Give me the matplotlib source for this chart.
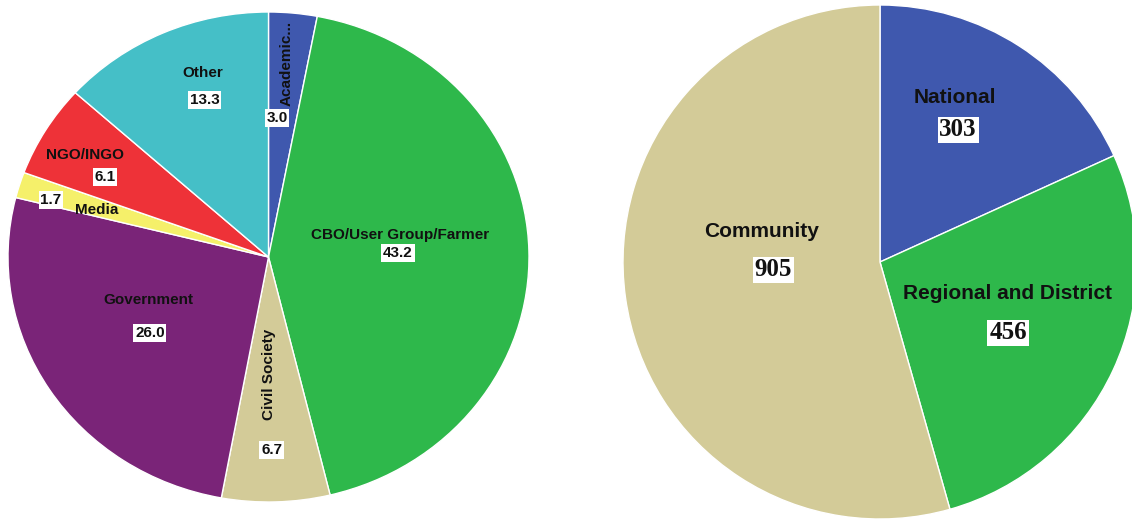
import matplotlib
matplotlib.use("Agg")
import matplotlib.pyplot as plt

# Stakeholder type (percent of respondents)
sector_names = ["Academic...", "CBO/User Group/Farmer", "Civil Society", "Government",
                "Media", "NGO/INGO", "Other"]
sector_pct = [3.0, 43.2, 6.7, 26.0, 1.7, 6.1, 13.3]
sector_colors = ["#3F58AE", "#2EB84B", "#D3CB98", "#7A2478", "#F5F06A", "#EE3238", "#45BFC7"]

# Administrative level (counts)
level_names = ["National", "Regional and District", "Community"]
level_counts = [303, 456, 905]
level_colors = ["#3F58AE", "#2EB84B", "#D3CB98"]

# label placement inside each pie (axes data units): name xy, value xy, name rotation
sector_layout = [
    ((0.071, 0.79), (0.033, 0.567), 90),
    ((0.505, 0.09), (0.497, 0.016), 0),
    ((0.0, -0.478), (0.012, -0.788), 90),
    ((-0.463, -0.176), (-0.455, -0.31), 0),
    ((-0.658, 0.192), (-0.835, 0.233), 0),
    ((-0.704, 0.416), (-0.628, 0.327), 0),
    ((-0.251, 0.751), (-0.244, 0.641), 0),
]
level_layout = [
    ((0.292, 0.642), (0.304, 0.514)),
    ((0.498, -0.121), (0.498, -0.276)),
    ((-0.459, 0.117), (-0.416, -0.031)),
]

W, H = 1132, 520
fig = plt.figure(figsize=(W / 100, H / 100), dpi=100)


def px_axes(x0, y0, x1, y1):
    return fig.add_axes([x0 / W, (H - y1) / H, (x1 - x0) / W, (y1 - y0) / H])


wedge_style = dict(edgecolor="white", linewidth=1.0)
box = dict(facecolor="white", edgecolor="none", pad=1.2)

# left pie: percentages by stakeholder type
ax1 = px_axes(8, 12, 529, 502)
ax1.pie(sector_pct, colors=sector_colors, startangle=90, counterclock=False,
        radius=1.0, wedgeprops=wedge_style)
ax1.set_xlim(-1, 1)
ax1.set_ylim(-1, 1)
ax1.set_aspect("auto")
ax1.axis("off")
for name, val, (nxy, vxy, rot) in zip(sector_names, sector_pct, sector_layout):
    ax1.text(*nxy, name, rotation=rot, ha="center", va="center", fontsize=11,
             fontweight="bold", family="Liberation Sans", color="#111111")
    ax1.text(*vxy, f"{val:.1f}", ha="center", va="center", fontsize=11,
             fontweight="bold", family="Liberation Sans", color="#111111", bbox=box)

# right pie: counts by administrative level
ax2 = px_axes(623, 5, 1137, 519)
ax2.pie(level_counts, colors=level_colors, startangle=90, counterclock=False,
        radius=1.0, wedgeprops=wedge_style)
ax2.set_xlim(-1, 1)
ax2.set_ylim(-1, 1)
ax2.set_aspect("auto")
ax2.axis("off")
for name, val, (nxy, vxy) in zip(level_names, level_counts, level_layout):
    ax2.text(*nxy, name, ha="center", va="center", fontsize=15,
             fontweight="bold", family="Liberation Sans", color="#111111")
    ax2.text(*vxy, f"{val}", ha="center", va="center", fontsize=18,
             fontweight="bold", family="Liberation Serif", color="#111111",
             bbox=dict(facecolor="white", edgecolor="none", pad=1.2))

fig.savefig("out.png", dpi=100)
